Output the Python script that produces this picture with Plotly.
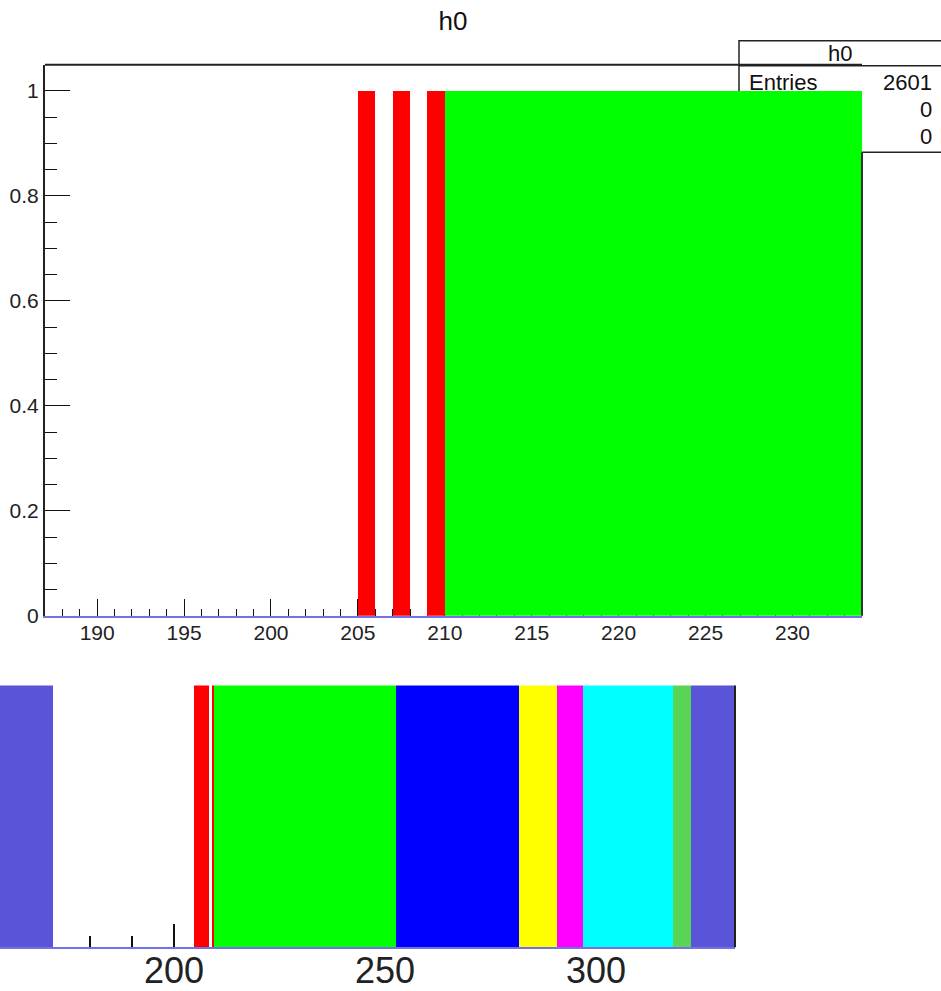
import plotly.graph_objects as go

W, H = 941, 991
HE = 977  # effective vertical extent used by the renderer for paper coords

# ---------------- data ----------------
# top histogram h0: unit bins from 187 to 234
top_bin_low = list(range(187, 234))
top_counts = [0] * 18 + [1, 0, 1, 0, 1] + [1] * 24
top_colors = ["#ff0000" if b < 210 else "#00ff00" for b in top_bin_low]

# bottom (zoomed-out) view: colored bands
bot_lo = [158.8, 204.8, 209.0, 209.5, 252.6, 281.8, 290.8, 296.9, 318.3, 322.5]
bot_hi = [171.3, 208.3, 209.5, 252.6, 281.8, 290.8, 296.9, 318.3, 322.5, 332.9]
bot_vals = [1, 1, 1, 1, 1, 1, 1, 1, 1, 1]
bot_colors = ["#5954d8", "#ff0000", "#ff0000", "#00ff00", "#0000ff",
              "#ffff00", "#ff00ff", "#00ffff", "#59d454", "#5954d8"]

stats_title = "h0"
stats_labels = ["Entries", "", ""]
stats_values = ["2601", "0", "0"]

FONT = "Liberation Sans, Arial, Helvetica, sans-serif"
LAV = "#7272e6"


def px_x(p):
    return p / W


def px_y(p):
    return 1 - p / HE


fig = go.Figure()

fig.add_trace(go.Bar(
    x=[b + 0.5 for b in top_bin_low], y=top_counts, width=[1] * len(top_bin_low),
    marker=dict(color=top_colors, line=dict(width=0)),
    xaxis="x", yaxis="y", showlegend=False, hoverinfo="x+y",
))

fig.add_trace(go.Bar(
    x=[(a + b) / 2 for a, b in zip(bot_lo, bot_hi)], y=bot_vals,
    width=[b - a for a, b in zip(bot_lo, bot_hi)],
    marker=dict(color=bot_colors, line=dict(width=0)),
    xaxis="x2", yaxis="y2", showlegend=False, hoverinfo="x+y",
))

y_top, y_bot = 65, 619
fig.update_layout(
    width=W, height=H,
    margin=dict(l=0, r=0, t=0, b=0),
    paper_bgcolor="white", plot_bgcolor="rgba(0,0,0,0)",
    bargap=0,
    font=dict(family=FONT, color="#222222"),
    title=dict(text="h0", x=453 / W, y=px_y(21), xanchor="center", yanchor="middle",
               font=dict(size=26, family=FONT, color="#111111")),
    xaxis=dict(
        domain=[px_x(45), px_x(862)], anchor="y", range=[187, 234],
        tick0=190, dtick=5, ticks="inside", ticklen=17, tickwidth=1, tickcolor="#111",
        minor=dict(dtick=1, tick0=190, ticks="inside", ticklen=7, tickwidth=1, tickcolor="#111"),
        showline=True, linecolor=LAV, linewidth=2,
        showgrid=False, zeroline=False, layer="below traces",
        tickfont=dict(size=21, family=FONT, color="#222"),
        ticklabelstandoff=-3,
        fixedrange=True,
    ),
    yaxis=dict(
        domain=[px_y(y_bot), px_y(y_top)], anchor="x", range=[0, 1.05],
        tick0=0, dtick=0.2, ticks="inside", ticklen=25, tickwidth=1, tickcolor="#111",
        minor=dict(dtick=0.05, tick0=0, ticks="inside", ticklen=12, tickwidth=1, tickcolor="#111"),
        showline=True, linecolor="#222", linewidth=2, mirror=False,
        showgrid=False, zeroline=False, layer="below traces",
        tickfont=dict(size=21, family=FONT, color="#222"),
        fixedrange=True,
    ),
    xaxis2=dict(
        domain=[0, px_x(735)], anchor="y2", range=[158.77, 332.94],
        tick0=0, dtick=50, ticks="inside", ticklen=23, tickwidth=2, tickcolor="#111",
        minor=dict(dtick=10, tick0=0, ticks="inside", ticklen=11, tickwidth=2, tickcolor="#111"),
        showline=True, linecolor=LAV, linewidth=2,
        showgrid=False, zeroline=False, layer="below traces",
        tickfont=dict(size=36, family=FONT, color="#222"),
        ticklabelstandoff=-9,
        fixedrange=True,
    ),
    yaxis2=dict(
        domain=[px_y(952), px_y(689)], anchor="x2", range=[0, 1],
        visible=False, fixedrange=True,
    ),
)

box_bottom = 153
shapes = [
    # top frame line of upper pad
    dict(type="line", xref="x domain", yref="y domain", x0=0, x1=1, y0=1, y1=1,
         line=dict(color="#222", width=2)),
    # right frame line of upper pad (visible below the stats box)
    dict(type="line", xref="x domain", yref="y domain", x0=1, x1=1, y0=0,
         y1=(y_bot - box_bottom) / (y_bot - y_top),
         line=dict(color="#333", width=2)),
    # right frame line of lower view
    dict(type="line", xref="x2 domain", yref="y2 domain", x0=1, x1=1, y0=0, y1=1,
         line=dict(color="#222", width=2)),
    # stats box
    dict(type="rect", xref="paper", yref="paper", x0=px_x(739), x1=px_x(945),
         y0=px_y(box_bottom), y1=px_y(41), fillcolor="white",
         line=dict(color="#222", width=1.5), layer="below"),
    dict(type="line", xref="paper", yref="paper", x0=px_x(739), x1=1,
         y0=px_y(66), y1=px_y(66), line=dict(color="#222", width=1.5), layer="below"),
]
fig.update_layout(shapes=shapes)

ann = [dict(text=stats_title, x=px_x(840), y=px_y(54), xref="paper", yref="paper",
            xanchor="center", yanchor="middle", showarrow=False,
            font=dict(size=22, family=FONT, color="#111"))]
rows_y = [83, 110, 137]
for lab, val, yy in zip(stats_labels, stats_values, rows_y):
    if lab:
        ann.append(dict(text=lab, x=px_x(747), y=px_y(yy), xref="paper", yref="paper",
                        xanchor="left", yanchor="middle", showarrow=False,
                        font=dict(size=22, family=FONT, color="#111")))
    ann.append(dict(text=val, x=px_x(934), y=px_y(yy), xref="paper", yref="paper",
                    xanchor="right", yanchor="middle", showarrow=False,
                    font=dict(size=22, family=FONT, color="#111")))
fig.update_layout(annotations=ann)

fig.write_html("out.html")
